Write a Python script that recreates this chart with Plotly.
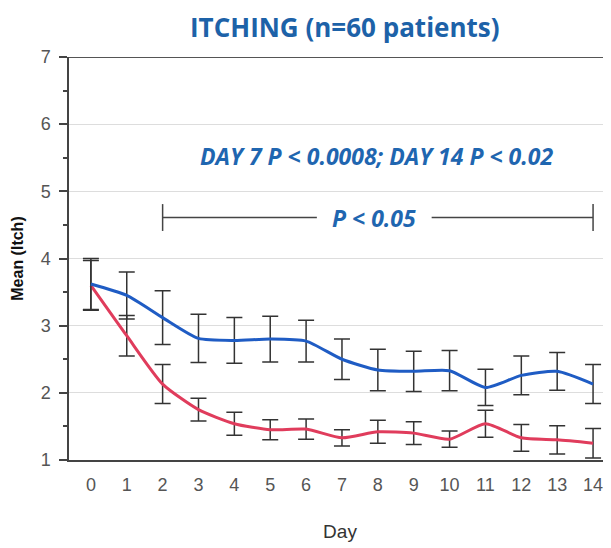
import plotly.graph_objects as go

days = list(range(15))
blue_mean = [3.62, 3.45, 3.12, 2.81, 2.78, 2.80, 2.77, 2.50, 2.34, 2.32, 2.33, 2.08, 2.26, 2.32, 2.13]
blue_err = [0.38, 0.35, 0.40, 0.36, 0.34, 0.34, 0.31, 0.30, 0.31, 0.30, 0.30, 0.27, 0.29, 0.28, 0.29]
red_mean = [3.60, 2.85, 2.13, 1.75, 1.54, 1.45, 1.46, 1.33, 1.42, 1.40, 1.31, 1.54, 1.33, 1.30, 1.25]
red_err = [0.37, 0.30, 0.29, 0.17, 0.17, 0.15, 0.15, 0.12, 0.17, 0.17, 0.12, 0.20, 0.20, 0.21, 0.22]

title_text = "ITCHING (n=60 patients)"
note_text = "DAY 7 P < 0.0008; DAY 14 P < 0.02"
bracket_text = "P < 0.05"
bracket_start, bracket_end, bracket_y = 2, 14, 4.61
note_pos = (7.95, 5.53)

BLUE_TXT = "#1f66b0"
TITLE_COL = "#1d62a8"
ERR_COL = "#333333"
# page body has an 8px default margin, so the figure is 8px smaller than the window
W, H = 603, 540
ML, MT, MB = 61, 49, 88
PH = H - MT - MB

fig = go.Figure()
for mean, err, col in [(red_mean, red_err, "#e03c5c"), (blue_mean, blue_err, "#1f5cc4")]:
    fig.add_trace(go.Scatter(
        x=days, y=mean, mode="lines",
        line=dict(color=col, width=3, shape="spline", smoothing=0.6),
        error_y=dict(type="data", array=err, visible=True, color=ERR_COL, thickness=1.5, width=8),
        showlegend=False, hoverinfo="skip"))

# significance bracket
fig.add_shape(type="line", x0=bracket_start, x1=6.3, y0=bracket_y, y1=bracket_y, line=dict(color="#444", width=1.5))
fig.add_shape(type="line", x0=9.5, x1=bracket_end, y0=bracket_y, y1=bracket_y, line=dict(color="#444", width=1.5))
for xb in (bracket_start, bracket_end):
    fig.add_shape(type="line", x0=xb, x1=xb, y0=bracket_y - 0.2, y1=bracket_y + 0.2, line=dict(color="#444", width=1.5))
fig.add_annotation(x=7.9, y=bracket_y, text="<b><i>" + bracket_text + "</i></b>", showarrow=False,
                   font=dict(size=23, color=BLUE_TXT, family="Open Sans"))
fig.add_annotation(x=note_pos[0], y=note_pos[1], text="<b><i>" + note_text + "</i></b>", showarrow=False,
                   font=dict(size=23, color=BLUE_TXT, family="Open Sans"))
# title as annotation
fig.add_annotation(xref="paper", yref="paper", x=(337 - ML) / (W - ML), y=1 + (MT - 19) / PH,
                   xanchor="center", yanchor="middle", showarrow=False,
                   text="<b>" + title_text + "</b>", font=dict(size=26, color=TITLE_COL, family="Open Sans"))

fig.update_layout(
    width=W, height=H,
    margin=dict(l=ML, r=0, t=MT, b=MB),
    paper_bgcolor="white", plot_bgcolor="white",
    xaxis=dict(range=[-0.61, 14.5], tickmode="array", tickvals=days, showgrid=False, automargin=False,
               showline=True, linecolor="#444", linewidth=1.5, ticks="", ticklabelstandoff=8,
               tickfont=dict(size=18, color="#555", family="Liberation Sans"), zeroline=False,
               title=dict(text="Day", font=dict(size=19, color="#333", family="Liberation Sans"), standoff=30)),
    yaxis=dict(range=[1, 7], dtick=1, showgrid=True, gridcolor="#dddddd", gridwidth=1, automargin=False,
               showline=True, linecolor="#444", linewidth=1.5, ticks="outside", ticklen=8, tickcolor="#444",
               tickwidth=1.5, minor=dict(ticks="outside", ticklen=4, dtick=0.5, tickcolor="#444"),
               tickfont=dict(size=18, color="#555", family="Liberation Sans"), zeroline=False,
               ticklabelstandoff=5,
               title=dict(text="<b>Mean (Itch)</b>", font=dict(size=16, color="#111", family="Liberation Sans"), standoff=13)),
)
fig.add_shape(type="line", xref="paper", x0=0, x1=1, yref="y", y0=7, y1=7, line=dict(color="#555", width=2))

fig.write_html("out.html")
